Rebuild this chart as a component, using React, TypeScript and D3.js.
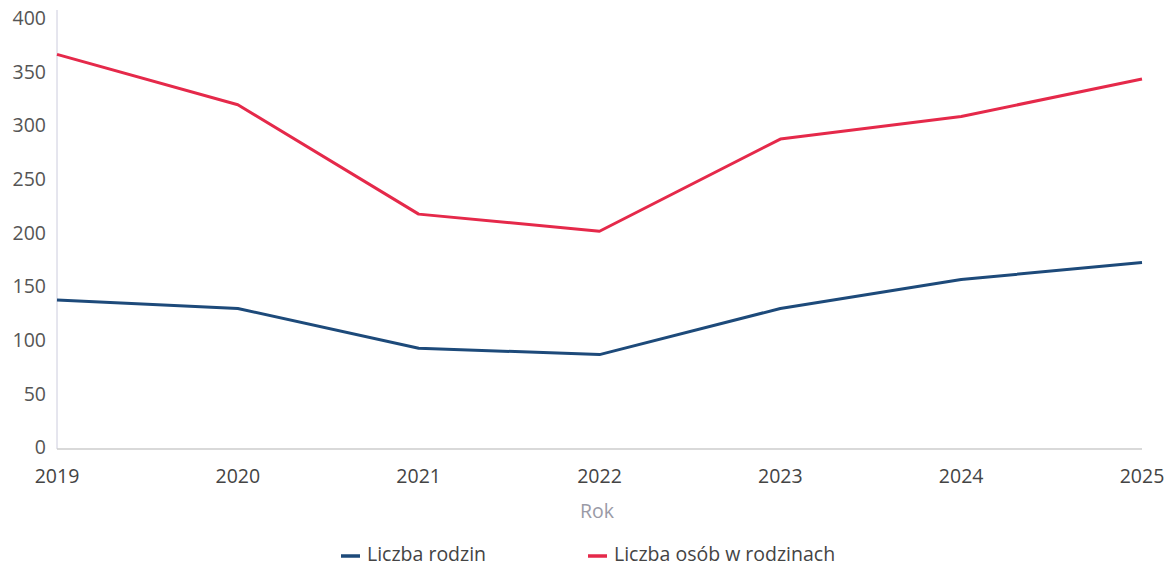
import React from "react";
import * as d3 from "d3";

const years = [2019, 2020, 2021, 2022, 2023, 2024, 2025];
const rodziny = [139, 131, 94, 88, 131, 158, 174];
const osoby = [368, 321, 219, 203, 289, 310, 345];
const yTicks = [0, 50, 100, 150, 200, 250, 300, 350, 400];

const W = 1169, H = 569;
const M = { left: 57, right: 1142, top: 20, bottom: 449 };
const FONT = "'Open Sans', 'Noto Sans', sans-serif";
const FS = 19.5;

export default function App() {
  const x = d3.scaleLinear().domain([2019, 2025]).range([M.left, M.right]);
  const y = d3.scaleLinear().domain([0, 400]).range([M.bottom, M.top]);
  const line = d3.line<number>().x((_, i) => x(years[i])).y((d) => y(d));
  const series = [
    { name: "Liczba rodzin", values: rodziny, color: "#1d4a7a", lx: 341 },
    { name: "Liczba osób w rodzinach", values: osoby, color: "#e5294a", lx: 588 },
  ];
  return (
    <svg width={W} height={H} style={{ position: "absolute", left: 0, top: 0, background: "#fff" }}>
      <line x1={M.left} x2={M.left} y1={10} y2={M.bottom} stroke="#ccd" strokeWidth={1} />
      <line x1={M.left} x2={M.right} y1={M.bottom} y2={M.bottom} stroke="#ccc" strokeWidth={1.5} />
      {yTicks.map((t) => (
        <text key={t} x={46} y={y(t)} textAnchor="end" dominantBaseline="middle" fontFamily={FONT} fontSize={FS} fill="#555">
          {t}
        </text>
      ))}
      {years.map((yr) => (
        <text key={yr} x={x(yr)} y={478} textAnchor="middle" dominantBaseline="middle" fontFamily={FONT} fontSize={FS} fill="#444">
          {yr}
        </text>
      ))}
      <text x={597} y={513} textAnchor="middle" dominantBaseline="middle" fontFamily={FONT} fontSize={FS} fill="#9a9aa6">
        Rok
      </text>
      {series.map((s) => (
        <path key={s.name} d={line(s.values) || ""} fill="none" stroke={s.color} strokeWidth={3} strokeLinejoin="round" />
      ))}
      {series.map((s) => (
        <g key={s.name + "l"}>
          <line x1={s.lx} x2={s.lx + 19} y1={556} y2={556} stroke={s.color} strokeWidth={3.5} />
          <text x={s.lx + 26} y={556} dominantBaseline="middle" fontFamily={FONT} fontSize={FS} fill="#444">
            {s.name}
          </text>
        </g>
      ))}
    </svg>
  );
}
